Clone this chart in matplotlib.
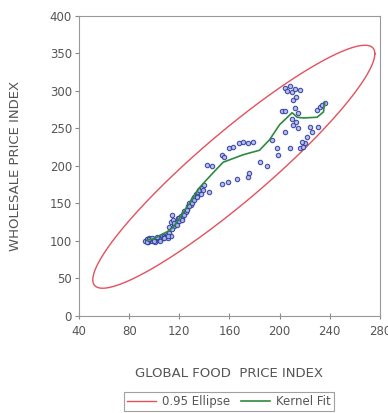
import numpy as np
import matplotlib
matplotlib.use("Agg")
import matplotlib.pyplot as plt

plt.rcParams['font.family'] = ['DejaVu Sans']

# puntos observados (indice global de alimentos, indice mayorista)
food_x = [93, 94, 95, 96, 97, 98, 99, 100, 101, 103, 104, 105, 106, 107, 108,
          109, 110, 111, 112, 113, 112, 113, 114, 115, 116, 117, 118, 119, 120,
          121, 122, 123, 124, 125, 126, 127, 128, 129, 130, 131, 132, 133, 134,
          135, 136, 138, 139, 140, 144,
          94, 96, 98, 100, 102, 105, 108, 111, 114, 116, 118, 120, 122, 124,
          126, 128, 130, 132, 134, 137,
          142, 146, 154, 156, 160, 163, 168, 171, 175, 179,
          154, 159, 166, 175, 176, 184, 190,
          194, 198, 199, 204, 208, 216, 220, 218, 219, 222, 226, 231, 224,
          202, 204, 204, 206, 208, 210, 212, 216, 211, 213, 212, 215, 211, 213,
          215, 210, 230, 232, 234, 236]
wholesale_y = [100, 103, 98, 104, 101, 100, 103, 102, 99, 104, 101, 103, 106, 104, 107,
               105, 108, 104, 110, 107, 118, 125, 135, 128, 120, 122, 125, 130, 127,
               133, 131, 136, 140, 138, 143, 147, 150, 148, 153, 156, 158, 162, 160,
               165, 168, 170, 168, 175, 165,
               99, 102, 104, 100, 105, 100, 104, 106, 116, 124, 121, 130, 128, 134,
               141, 146, 150, 155, 158, 163,
               201, 200, 215, 212, 224, 225, 231, 232, 231, 232,
               176, 179, 183, 185, 190, 205, 200,
               235, 224, 215, 245, 224, 224, 231, 232, 225, 238, 245, 252, 252,
               273, 273, 304, 300, 306, 299, 302, 301, 288, 292, 277, 271, 255, 258,
               251, 262, 275, 279, 281, 284]

# ajuste kernel
kernel_x = [94, 100, 105, 110, 115, 120, 128, 136, 147, 155, 171, 184, 192, 200,
            210, 214, 219, 230, 235, 236]
kernel_y = [101, 103, 108, 112, 118, 130, 150, 171, 191, 205, 215, 221, 235, 255,
            271, 265, 264, 265, 272, 284]

# elipse 0.95 (centro, dispersion, correlacion)
elipse_centro = (163.5, 199)
elipse_sx = 112.5
elipse_sy = 162
elipse_rho = 0.93

fig = plt.figure(figsize=(3.88, 4.13), dpi=100)
ax = fig.add_axes([0.2036, 0.2349, 0.7754, 0.7264])

t = np.linspace(0, 2 * np.pi, 400)
ex = elipse_centro[0] + elipse_sx * np.cos(t)
ey = elipse_centro[1] + elipse_sy * (elipse_rho * np.cos(t) + np.sqrt(1 - elipse_rho ** 2) * np.sin(t))
ax.plot(ex, ey, color='#e4505c', lw=1.0, label='0.95 Ellipse', zorder=2)

ax.scatter(food_x, wholesale_y, s=10, facecolors='#b4b8e6', edgecolors='#3040a4',
           linewidths=0.8, alpha=0.9, zorder=3)
ax.plot(kernel_x, kernel_y, color='#2f8a3e', lw=1.2, label='Kernel Fit', zorder=4)

ax.set_xlim(40, 280)
ax.set_ylim(0, 400)
ax.set_xticks(range(40, 281, 40))
ax.set_yticks(range(0, 401, 50))
for s in ax.spines.values():
    s.set_color('#999999')
ax.tick_params(colors='#888888', labelcolor='#555555', labelsize=8.5, length=3, pad=2)
ax.tick_params(axis='x', direction='inout', length=5, pad=4)

ax.set_xlabel('GLOBAL FOOD  PRICE INDEX', fontsize=9.5, color='#555555')
ax.set_ylabel('WHOLESALE PRICE INDEX', fontsize=9.5, color='#555555')
ax.xaxis.set_label_coords(0.5, -0.17)
ax.yaxis.set_label_coords(-0.19, 0.5)

leg = fig.legend(loc='center', bbox_to_anchor=(0.59, 0.028), ncol=2, fontsize=8.5,
                 frameon=True, fancybox=False, edgecolor='#888888', handlelength=2.5,
                 columnspacing=0.9, borderpad=0.25, handletextpad=0.5)
leg.get_frame().set_linewidth(0.8)
for txt in leg.get_texts():
    txt.set_color('#555555')

fig.savefig('out.png', dpi=100)
